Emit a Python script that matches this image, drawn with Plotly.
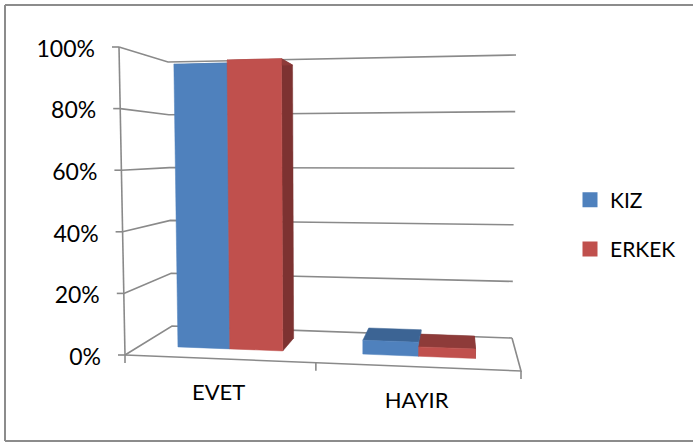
import plotly.graph_objects as go

categories = ["EVET", "HAYIR"]
series_names = ["KIZ", "ERKEK"]
kiz_values = [95.5, 4.5]
erkek_values = [96.5, 3]
tick_values = [0, 20, 40, 60, 80, 100]
tick_labels = ["0%", "20%", "40%", "60%", "80%", "100%"]

front_colors = ["#4F81BD", "#C0504D"]
top_colors = ["#3C6494", "#8E3B39"]
side_colors = ["#3C6494", "#7D3231"]
GRID = "#8A8A8A"
FONT = "Lato"

# corners of the 3D box as it appears on the page: (across, value, depth)
C = {
    (0, 0, 0): (125, 355), (0, 1, 0): (119, 47),
    (0, 0, 1): (172, 326), (0, 1, 1): (168, 62),
    (1, 0, 1): (512, 338), (1, 1, 1): (516, 55),
    (1, 0, 0): (521, 371), (1, 1, 0): (527, 35),
}
WARP = 0.072


def project(u, value, w):
    u = u - WARP * u * (1 - u)
    v = value / 100
    x = y = 0
    for a in (0, 1):
        for b in (0, 1):
            for c in (0, 1):
                k = (u if a else 1 - u) * (v if b else 1 - v) * (w if c else 1 - w)
                x += k * C[(a, b, c)][0]
                y += k * C[(a, b, c)][1]
    return x, y


def path(points):
    pts = [project(*p) for p in points]
    return [p[0] for p in pts], [p[1] for p in pts]


fig = go.Figure()


def line(points, dx=0, dy=0, color=GRID, width=1.6):
    xs, ys = path(points)
    fig.add_trace(go.Scatter(x=[a + dx for a in xs], y=[b + dy for b in ys], mode="lines",
                             line=dict(color=color, width=width), showlegend=False, hoverinfo="skip"))


def poly(points, color):
    xs, ys = path(points)
    fig.add_trace(go.Scatter(x=xs + xs[:1], y=ys + ys[:1], mode="lines", fill="toself", fillcolor=color,
                             line=dict(color=color, width=0.5), showlegend=False, hoverinfo="skip"))


# walls and floor
for t in tick_values:
    line([(0, t, 0), (0, t, 1), (1, t, 1)])
    xs, ys = project(0, t, 0)
    fig.add_trace(go.Scatter(x=[xs - 7, xs], y=[ys, ys], mode="lines", line=dict(color=GRID, width=1.6),
                             showlegend=False, hoverinfo="skip"))
line([(0, 0, 0), (0, 100, 0)])
line([(0, 0, 0), (1, 0, 0), (1, 0, 1)])
for i in range(len(categories) + 1):
    u = i / len(categories)
    x0, y0 = project(u, 0, 0)
    fig.add_trace(go.Scatter(x=[x0, x0], y=[y0, y0 + 8], mode="lines", line=dict(color=GRID, width=1.6),
                             showlegend=False, hoverinfo="skip"))

# bars
W0, W1 = 0.33, 0.75
BAR = 0.144
for s, values in enumerate([kiz_values, erkek_values]):
    for i, val in enumerate(values):
        c = (i + 0.5) / len(values)
        a = c - BAR + s * BAR
        b = a + BAR
        poly([(b, 0, W0), (b, 0, W1), (b, val, W1), (b, val, W0)], side_colors[s])
        poly([(a, val, W0), (b, val, W0), (b, val, W1), (a, val, W1)], top_colors[s])
        poly([(a, 0, W0), (b, 0, W0), (b, val, W0), (a, val, W0)], front_colors[s])

# value labels
for t, lab in zip(tick_values, tick_labels):
    x0, y0 = project(0, t, 0)
    fig.add_trace(go.Scatter(x=[x0 - 24], y=[y0 + 4], mode="text", text=[lab], textposition="middle left",
                             textfont=dict(family=FONT, size=23, color="#000000"),
                             showlegend=False, hoverinfo="skip"))

# category labels
for i, lab in enumerate(categories):
    x0, y0 = project((i + 0.5) / len(categories), 0, 0)
    fig.add_trace(go.Scatter(x=[x0], y=[y0 + 36], mode="text", text=[lab], textposition="middle center",
                             textfont=dict(family=FONT, size=22, color="#000000"),
                             showlegend=False, hoverinfo="skip"))

# legend entries
for name, col in zip(series_names, front_colors):
    fig.add_trace(go.Scatter(x=[None], y=[None], mode="markers", name=name, legendgroup=name,
                             marker=dict(symbol="square", size=15, color=col)))

BORDER = dict(color="#8C8C8C", width=2)
fig.update_layout(
    width=693, height=443, margin=dict(l=0, r=0, t=0, b=0), autosize=False,
    paper_bgcolor="#FFFFFF", plot_bgcolor="#FFFFFF",
    xaxis=dict(range=[0, 693], visible=False, fixedrange=True),
    yaxis=dict(range=[443, 0], visible=False, fixedrange=True),
    legend=dict(x=570 / 693, y=1 - 179.5 / 443, xanchor="left", yanchor="top",
                font=dict(family=FONT, size=21, color="#000000"), tracegroupgap=19,
                bgcolor="rgba(0,0,0,0)", itemclick=False, itemdoubleclick=False),
    shapes=[dict(type="line", xref="x", yref="y", x0=693, y0=5, x1=5, y1=5, line=BORDER),
            dict(type="line", xref="x", yref="y", x0=5, y0=5, x1=5, y1=441, line=BORDER),
            dict(type="line", xref="x", yref="y", x0=5, y0=441, x1=693, y1=441, line=BORDER)],
)
fig.write_html("out.html", config=dict(displayModeBar=False),
               post_script="document.body.style.margin='0';document.body.style.overflow='hidden';")
